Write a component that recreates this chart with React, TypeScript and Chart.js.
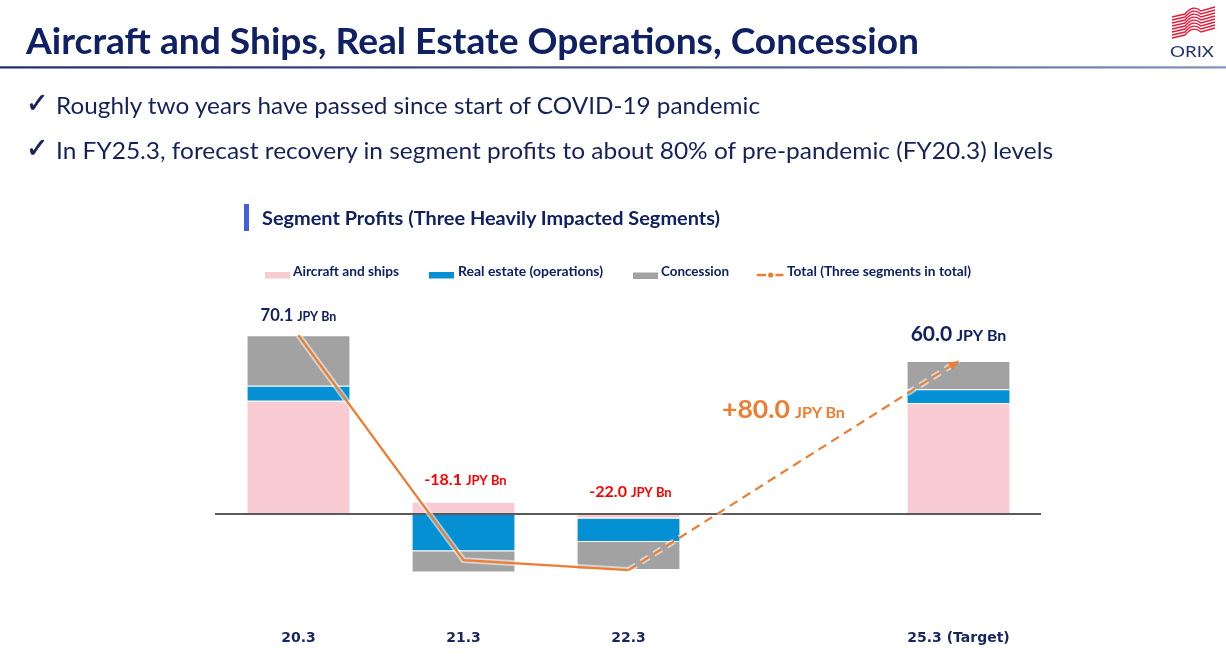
import React, { useEffect, useRef } from 'react';
import { Chart, registerables } from 'chart.js';

Chart.register(...registerables);

// ---------------- data ----------------
const categories = ['20.3', '21.3', '22.3', '', '25.3 (Target)'];
const aircraftShips = [44.4, 4.8, -1.8, null, 43.5];
const realEstate = [5.9, -14.6, -9.2, null, 5.4];
const concession = [19.8, -8.3, -11.0, null, 11.1];
const totalActual = [70.1, -18.1, -22.0, null, null];
const totalForecast = [null, null, -22.0, null, 60.0];
const totalLabels = [70.1, -18.1, -22.0, null, 60.0];
const targetIndex = 4;
const changeValue = '+80.0';
const unitText = 'JPY Bn';

const seriesNames = ['Aircraft and ships', 'Real estate (operations)', 'Concession', 'Total (Three segments in total)'];
const bullets = [
  'Roughly two years have passed since start of COVID-19 pandemic',
  'In FY25.3, forecast recovery in segment profits to about 80% of pre-pandemic (FY20.3) levels',
];
const titleText = 'Aircraft and Ships, Real Estate Operations, Concession';
const subtitleText = 'Segment Profits (Three Heavily Impacted Segments)';

// ---------------- styles ----------------
const PINK = '#f9cbd3';
const BLUE = '#0590d3';
const GRAY = '#a1a2a1';
const ORANGE = '#ed7d31';
const NAVY = '#0f2163';
const RED = '#ff0000';
const FONT = 'Lato, "Open Sans", sans-serif';

const overlayPlugin = {
  id: 'overlay',
  afterDatasetDraw(chart: any, args: any) {
    if (args.index !== 0) return;
    const { ctx, chartArea, scales } = chart;
    const y0 = scales.y.getPixelForValue(0);
    ctx.save();
    ctx.strokeStyle = '#5a5a5a';
    ctx.lineWidth = 2;
    ctx.beginPath();
    ctx.moveTo(chartArea.left - 1, y0);
    ctx.lineTo(chartArea.right, y0);
    ctx.stroke();
    ctx.restore();
  },
  afterDatasetsDraw(chart: any) {
    const { ctx, scales } = chart;
    const xs = scales.x;
    const ys = scales.y;
    ctx.save();
    // value labels
    totalLabels.forEach((v, i) => {
      if (v === null) return;
      const pos = [aircraftShips[i], realEstate[i], concession[i]].reduce(
        (s: number, d) => s + (d !== null && d > 0 ? d : 0), 0);
      const top = ys.getPixelForValue(pos);
      const cx = xs.getPixelForValue(i);
      const isTarget = i === targetIndex;
      const neg = v < 0;
      const numSize = isTarget ? 21 : neg ? 16 : 16.5;
      const unitSize = isTarget ? 16 : neg ? 13 : 12.5;
      const gap = isTarget ? 20 : neg ? 17 : 14.5;
      const color = neg ? RED : NAVY;
      const num = v.toFixed(1);
      ctx.font = `bold ${numSize}px ${FONT}`;
      const w1 = ctx.measureText(num).width;
      ctx.font = `bold ${unitSize}px ${FONT}`;
      const w2 = ctx.measureText(unitText).width;
      const sp = 4;
      const x0 = cx - (w1 + sp + w2) / 2 + (neg ? 2 : 0);
      ctx.fillStyle = color;
      ctx.textAlign = 'left';
      ctx.textBaseline = 'alphabetic';
      ctx.font = `bold ${numSize}px ${FONT}`;
      ctx.fillText(num, x0, top - gap);
      ctx.font = `bold ${unitSize}px ${FONT}`;
      ctx.fillText(unitText, x0 + w1 + sp, top - gap);
    });
    // arrow head at end of forecast line
    const meta = chart.getDatasetMeta(1);
    const pts = meta.data;
    let last = -1, prev = -1;
    totalForecast.forEach((v, i) => { if (v !== null) { prev = last; last = i; } });
    if (last >= 0 && prev >= 0) {
      const p1 = pts[prev], p2 = pts[last];
      const ang = Math.atan2(p2.y - p1.y, p2.x - p1.x);
      const L = 10, W = 4.5;
      ctx.fillStyle = ORANGE;
      ctx.beginPath();
      ctx.moveTo(p2.x, p2.y);
      ctx.lineTo(p2.x - L * Math.cos(ang) + W * Math.sin(ang), p2.y - L * Math.sin(ang) - W * Math.cos(ang));
      ctx.lineTo(p2.x - L * Math.cos(ang) - W * Math.sin(ang), p2.y - L * Math.sin(ang) + W * Math.cos(ang));
      ctx.closePath();
      ctx.fill();
    }
    ctx.restore();
  },
};

function ChartCanvas() {
  const ref = useRef<HTMLCanvasElement | null>(null);
  useEffect(() => {
    if (!ref.current) return;
    const barCommon = {
      type: 'bar' as const,
      order: 3,
      stack: 'segments',
      borderColor: '#ffffff',
      borderWidth: { top: 1, bottom: 1, left: 0, right: 0 },
      borderSkipped: 'start',
      barPercentage: 0.62,
      categoryPercentage: 1,
    };
    const chart = new Chart(ref.current, {
      type: 'bar',
      data: {
        labels: categories,
        datasets: [
          { ...barCommon, label: seriesNames[0], data: aircraftShips, backgroundColor: PINK } as any,
          // forecast dashed line (index 1, used by arrow plugin)
          {
            type: 'line', label: seriesNames[3] + ' forecast', data: totalForecast, order: 1, stack: 'fc',
            borderColor: ORANGE, borderWidth: 2.2, borderDash: [9, 6], pointRadius: 0, spanGaps: true, tension: 0,
          },
          { ...barCommon, label: seriesNames[1], data: realEstate, backgroundColor: BLUE } as any,
          { ...barCommon, label: seriesNames[2], data: concession, backgroundColor: GRAY } as any,
          {
            type: 'line', label: seriesNames[3], data: totalActual, order: 1, stack: 'act',
            borderColor: ORANGE, borderWidth: 2.2, pointRadius: 0, spanGaps: false, tension: 0,
          },
          {
            type: 'line', label: 'halo-actual', data: totalActual, order: 2, stack: 'halo1',
            borderColor: 'rgba(255,255,255,0.55)', borderWidth: 6, pointRadius: 0, tension: 0,
          },
          {
            type: 'line', label: 'halo-forecast', data: totalForecast, order: 2, stack: 'halo2',
            borderColor: 'rgba(255,255,255,0.55)', borderWidth: 6, borderDash: [9, 6], pointRadius: 0, spanGaps: true, tension: 0,
          },
        ],
      },
      options: {
        animation: false,
        responsive: false,
        maintainAspectRatio: false,
        layout: { padding: { left: 216, right: 185, top: 297.25, bottom: 0 } },
        plugins: { legend: { display: false }, tooltip: { enabled: false } },
        scales: {
          x: {
            stacked: true,
            offset: true,
            grid: { display: false, drawTicks: false },
            border: { display: false },
            ticks: {
              padding: 27,
              color: '#17265f',
              font: { family: '"DejaVu Sans", Verdana, sans-serif', size: 14, weight: 'bold' },
              maxRotation: 0,
              autoSkip: false,
            },
            afterFit: (scale: any) => { scale.height = 53.75; },
          },
          y: {
            stacked: true,
            display: false,
            min: -35,
            max: 85,
          },
        },
      } as any,
      plugins: [overlayPlugin],
    });
    return () => chart.destroy();
  }, []);
  return (
    <canvas ref={ref} width={1226} height={657}
      style={{ position: 'absolute', left: 0, top: 0, width: 1226, height: 657 }} />
  );
}

function Logo() {
  const stripes = [];
  for (let i = 0; i < 8; i++) {
    const o = i * 3;
    stripes.push(
      <path key={i}
        d={`M1172 ${17 + o} L1185 ${14 + o} Q1193 ${4 + o} 1201 ${11 + o} L1215 ${7 + o}`}
        stroke="#e31e3c" strokeWidth={1.4} fill="none" />
    );
  }
  return (
    <g>
      {stripes}
      <text x={1170} y={56.7} fontFamily={FONT} fontSize={16} fill="#1d3470"
        textLength={44} lengthAdjust="spacingAndGlyphs">ORIX</text>
    </g>
  );
}

function Overlay() {
  return (
    <svg width={1226} height={657} style={{ position: 'absolute', left: 0, top: 0, pointerEvents: 'none' }}>
      <defs>
        <linearGradient id="rule" x1="0" x2="1" y1="0" y2="0">
          <stop offset="0" stopColor="#1c2c6a" />
          <stop offset="0.6" stopColor="#4a5c8c" />
          <stop offset="1" stopColor="#8593b4" />
        </linearGradient>
      </defs>
      <text x={26} y={54.3} fontFamily={FONT} fontWeight="bold" fontSize={36} fill={NAVY}
        textLength={893} lengthAdjust="spacingAndGlyphs">{titleText}</text>
      <rect x={0} y={66.3} width={1226} height={2.2} fill="url(#rule)" />
      <Logo />
      {bullets.map((b, i) => (
        <g key={i}>
          <text x={26} y={[112, 157][i]} fontFamily='"DejaVu Sans", sans-serif' fontSize={27} fill="#15225a"
            stroke="#15225a" strokeWidth={0.6}>✓</text>
          <text x={56} y={[114.3, 159][i]} fontFamily={FONT} fontSize={23} fill="#15225a"
            textLength={[704, 997][i]} lengthAdjust="spacingAndGlyphs">{b}</text>
        </g>
      ))}
      <rect x={244} y={204} width={5} height={27} fill="#4060dc" />
      <text x={262} y={225} fontFamily={FONT} fontWeight="bold" fontSize={18} fill={NAVY}
        textLength={458} lengthAdjust="spacingAndGlyphs">{subtitleText}</text>
      {/* legend */}
      <rect x={265} y={272} width={25} height={6.5} fill={PINK} />
      <text x={293} y={276} fontFamily={FONT} fontWeight="bold" fontSize={13} fill={NAVY}
        textLength={106} lengthAdjust="spacingAndGlyphs">{seriesNames[0]}</text>
      <rect x={429} y={272} width={25} height={6.5} fill={BLUE} />
      <text x={458} y={276} fontFamily={FONT} fontWeight="bold" fontSize={13} fill={NAVY}
        textLength={145} lengthAdjust="spacingAndGlyphs">{seriesNames[1]}</text>
      <rect x={633} y={272.5} width={25} height={6.5} fill={GRAY} />
      <text x={661} y={276} fontFamily={FONT} fontWeight="bold" fontSize={13} fill={NAVY}
        textLength={68} lengthAdjust="spacingAndGlyphs">{seriesNames[2]}</text>
      <line x1={757} y1={275} x2={766} y2={275} stroke={ORANGE} strokeWidth={2.5} />
      <circle cx={770.7} cy={275} r={2.6} fill={ORANGE} />
      <line x1={775.5} y1={275} x2={783.5} y2={275} stroke={ORANGE} strokeWidth={2.5} />
      <text x={787} y={276} fontFamily={FONT} fontWeight="bold" fontSize={13} fill={NAVY}
        textLength={184} lengthAdjust="spacingAndGlyphs">{seriesNames[3]}</text>
      {/* change annotation */}
      <text x={722} y={418.3} fontFamily={FONT} fontWeight="bold" fontSize={24} fill={ORANGE}
        textLength={68} lengthAdjust="spacingAndGlyphs">{changeValue}</text>
      <text x={795} y={418.3} fontFamily={FONT} fontWeight="bold" fontSize={16} fill={ORANGE}
        textLength={50} lengthAdjust="spacingAndGlyphs">{unitText}</text>
    </svg>
  );
}

export default function App() {
  return (
    <div style={{ position: 'absolute', left: 0, top: 0, width: 1226, height: 657, background: '#fff', overflow: 'hidden' }}>
      <ChartCanvas />
      <Overlay />
    </div>
  );
}
